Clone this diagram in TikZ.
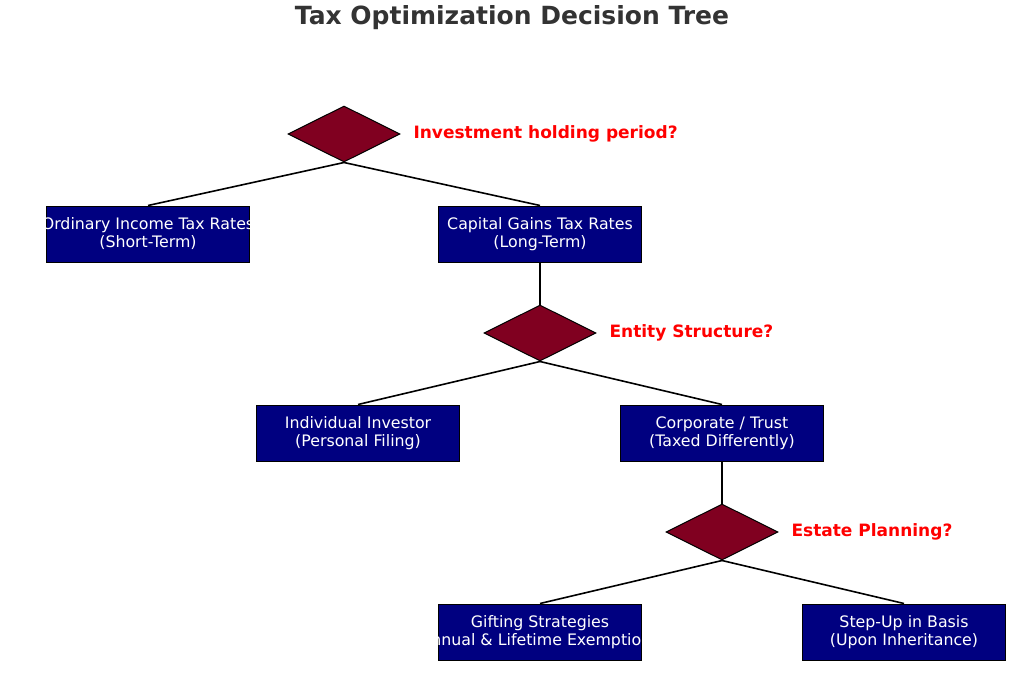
\documentclass[tikz,border=0pt]{standalone}
\usepackage{fontspec}
\setmainfont{DejaVu Sans}
\usetikzlibrary{shapes.geometric}
\definecolor{boxc}{HTML}{000080}
\definecolor{dia}{HTML}{800020}
\begin{document}
\begin{tikzpicture}[x=1pt,y=-1pt,
 bx/.style={draw=black,line width=1pt,fill=boxc,minimum width=203pt,minimum height=56pt,inner sep=0pt},
 bt/.style={text=white,font=\fontsize{15.8pt}{18pt}\selectfont,align=center,inner sep=0pt},
 dm/.style={draw=black,line width=1pt,fill=dia,diamond,minimum width=112pt,minimum height=56pt,inner sep=0pt,aspect=2},
 lb/.style={anchor=west,text=red,font=\bfseries\fontsize{17pt}{20pt}\selectfont},
 ln/.style={draw=black,line width=1.6pt}]
\useasboundingbox (0,0) rectangle (1024,683);
\node[font=\bfseries\fontsize{25pt}{30pt}\selectfont,text={rgb,255:red,51;green,51;blue,51}] (title) at (512,18) {Tax Optimization Decision Tree};
\node[dm] (d1) at (344,134) {};
\node[lb] (l1) at (410,134) {Investment holding period?};
\node[bx] (b1) at (148,234) {};
\node[bt] (t1) at (b1) {Ordinary Income Tax Rates\\(Short-Term)};
\node[bx] (b2) at (540,234) {};
\node[bt] (t2) at (b2) {Capital Gains Tax Rates\\(Long-Term)};
\node[dm] (d2) at (540,333) {};
\node[lb] (l2) at (606,333) {Entity Structure?};
\node[bx] (b3) at (358,433) {};
\node[bt] (t3) at (b3) {Individual Investor\\(Personal Filing)};
\node[bx] (b4) at (722,433) {};
\node[bt] (t4) at (b4) {Corporate / Trust\\(Taxed Differently)};
\node[dm] (d3) at (722,532) {};
\node[lb] (l3) at (788,532) {Estate Planning?};
\node[bx] (b5) at (540,632) {};
\node[bt] (t5) at (b5) {Gifting Strategies\\(Annual \& Lifetime Exemptions)};
\node[bx] (b6) at (904,632) {};
\node[bt] (t6) at (b6) {Step-Up in Basis\\(Upon Inheritance)};
\draw[ln] (d1.south) -- (b1.north);
\draw[ln] (d1.south) -- (b2.north);
\draw[ln] (b2.south) -- (d2.north);
\draw[ln] (d2.south) -- (b3.north);
\draw[ln] (d2.south) -- (b4.north);
\draw[ln] (b4.south) -- (d3.north);
\draw[ln] (d3.south) -- (b5.north);
\draw[ln] (d3.south) -- (b6.north);
\end{tikzpicture}
\end{document}
